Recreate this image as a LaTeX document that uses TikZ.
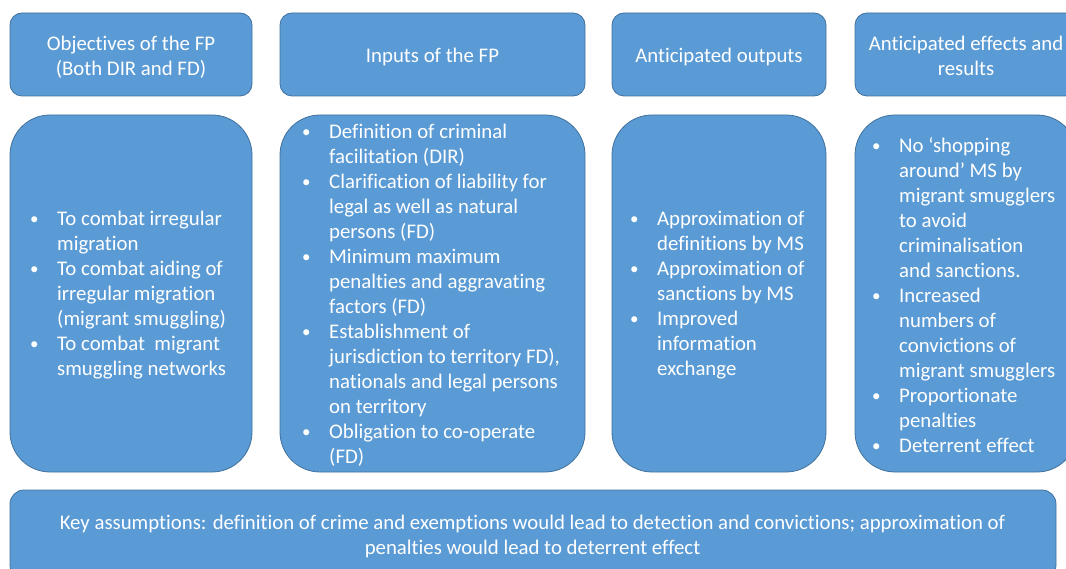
\documentclass[tikz,border=0pt]{standalone}
\usepackage{fontspec}
\setmainfont{Carlito}[Ligatures={NoCommon}]
\definecolor{boxfill}{HTML}{5B9BD5}
\definecolor{boxline}{HTML}{41719C}
\newcommand\bitem{\makebox[22pt][l]{\hspace*{-5pt}\raisebox{1pt}{\fontsize{17}{17}\selectfont\textbullet}}}
\newcommand\bcont{\hspace*{22pt}}
\tikzset{
  box/.style={draw=boxline, line width=0.8pt, fill=boxfill, rounded corners=#1, inner sep=0pt},
  txt/.style={text=white, font=\fontsize{20.8}{25}\selectfont, align=center, inner sep=0pt},
  lst/.style={text=white, font=\fontsize{20.8}{25}\selectfont, align=left, anchor=west, inner sep=0pt}
}
\begin{document}
\begin{tikzpicture}[x=1pt,y=-1pt]
\useasboundingbox (0,0) rectangle (1066,569);
\clip (0,0) rectangle (1066,569);
% headers
\node[box=12pt, minimum width=242pt, minimum height=83pt] (h1) at (131,54.5) {};
\node[box=12pt, minimum width=305pt, minimum height=83pt] (h2) at (432.5,54.5) {};
\node[box=12pt, minimum width=214pt, minimum height=83pt] (h3) at (719,54.5) {};
\node[box=12pt, minimum width=222pt, minimum height=83pt] (h4) at (966,54.5) {};
\node[txt] (t1) at (131,57.5) {Objectives of the FP\\(Both DIR and FD)};
\node[txt] (t2) at (432.5,56.5) {Inputs of the FP};
\node[txt] (t3) at (719,56.5) {Anticipated outputs};
\node[txt] (t4) at (966,56) {Anticipated effects and\\results};
% bodies
\node[box=40pt, minimum width=242pt, minimum height=357pt] (b1) at (131,293.5) {};
\node[box=40pt, minimum width=305pt, minimum height=357pt] (b2) at (432.5,293.5) {};
\node[box=40pt, minimum width=214pt, minimum height=357pt] (b3) at (719,293.5) {};
\node[box=40pt, minimum width=222pt, minimum height=357pt] (b4) at (966,293.5) {};
\node[lst] (l1) at (35,295.5) {\bitem To combat irregular\\\bcont migration\\\bitem To combat aiding of\\\bcont irregular migration\\\bcont (migrant smuggling)\\\bitem To combat\ \ migrant\\\bcont smuggling networks};
\node[lst] (l2) at (307,295.5) {\bitem Definition of criminal\\\bcont facilitation (DIR)\\\bitem Clarification of liability for\\\bcont legal as well as natural\\\bcont persons (FD)\\\bitem Minimum maximum\\\bcont penalties and aggravating\\\bcont factors (FD)\\\bitem Establishment of\\\bcont jurisdiction to territory FD),\\\bcont nationals and legal persons\\\bcont on territory\\\bitem Obligation to co-operate\\\bcont (FD)};
\node[lst] (l3) at (635,295.5) {\bitem Approximation of\\\bcont definitions by MS\\\bitem Approximation of\\\bcont sanctions by MS\\\bitem Improved\\\bcont information\\\bcont exchange};
\node[lst] (l4) at (877,295.5) {\bitem No ‘shopping\\\bcont around’ MS by\\\bcont migrant smugglers\\\bcont to avoid\\\bcont criminalisation\\\bcont and sanctions.\\\bitem Increased\\\bcont numbers of\\\bcont convictions of\\\bcont migrant smugglers\\\bitem Proportionate\\\bcont penalties\\\bitem Deterrent effect};
% bottom
\node[box=14pt, minimum width=1046pt, minimum height=89pt] (k) at (533,534.5) {};
\node[txt] (kt) at (532.5,536.5) {Key assumptions: definition of crime and exemptions would lead to detection and convictions; approximation of\\penalties would lead to deterrent effect};
\end{tikzpicture}
\end{document}
